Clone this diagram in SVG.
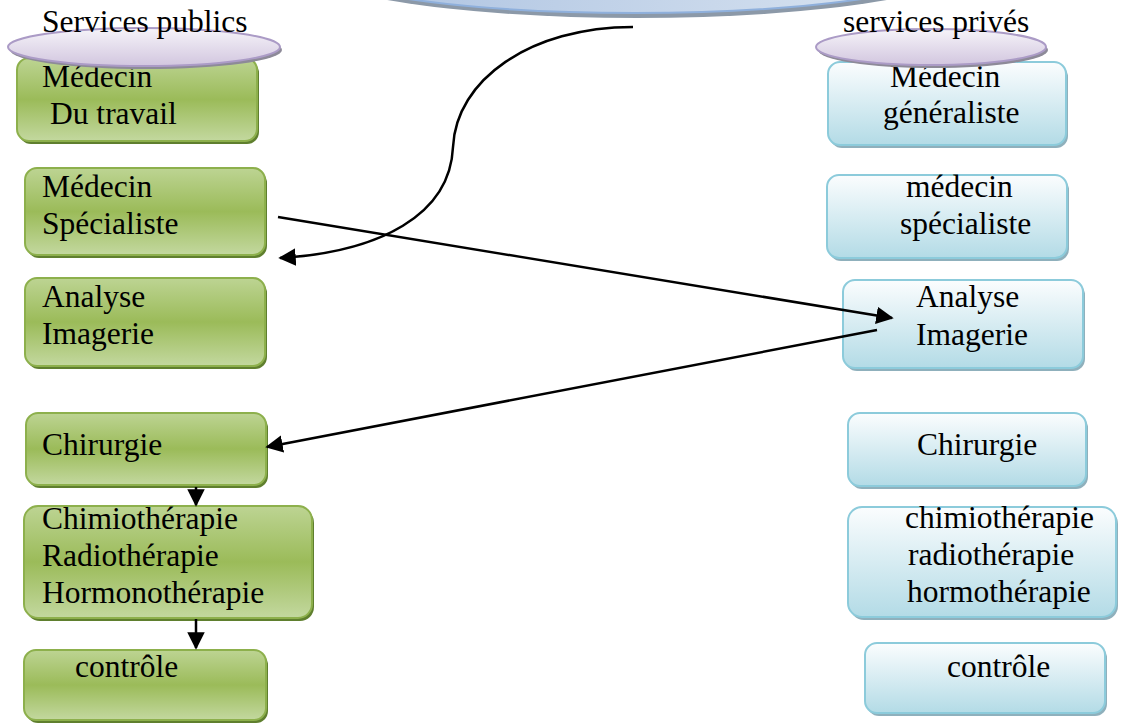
<svg xmlns="http://www.w3.org/2000/svg" width="1121" height="725" viewBox="0 0 1121 725">
<defs>
<linearGradient id="gGreen" x1="0" y1="0" x2="0" y2="1">
<stop offset="0" stop-color="#bdd493"/>
<stop offset="0.5" stop-color="#9bbb59"/>
<stop offset="1" stop-color="#c3d89f"/>
</linearGradient>
<linearGradient id="gBlue" x1="0" y1="0" x2="0" y2="1">
<stop offset="0" stop-color="#fbfdfe"/>
<stop offset="1" stop-color="#b3dbe6"/>
</linearGradient>
<linearGradient id="gLav" x1="0" y1="0" x2="0" y2="1">
<stop offset="0" stop-color="#f6f4f9"/>
<stop offset="1" stop-color="#d2c6df"/>
</linearGradient>
<linearGradient id="gTop" x1="0" y1="0" x2="1" y2="0">
<stop offset="0" stop-color="#a9c0e0"/>
<stop offset="1" stop-color="#dde7f2"/>
</linearGradient>
<marker id="ah" viewBox="0 0 10 10" refX="9" refY="5" markerWidth="7" markerHeight="7" markerUnits="strokeWidth" orient="auto">
<path d="M0,0 L10,5 L0,10 z" fill="#000"/>
</marker>
<style>
.t{font-family:"Liberation Serif","Times New Roman",serif;font-size:31.5px;fill:#000}
.gs{fill:#5f7f2e}
.g{fill:url(#gGreen);stroke:#8db04c;stroke-width:2}
.bs{fill:#8fb0bc}
.b{fill:url(#gBlue);stroke:#8ccbdb;stroke-width:2}
.es{fill:#8d8a98}
.e{fill:url(#gLav);stroke:#ab9bc6;stroke-width:2}
.c{fill:none;stroke:#000;stroke-width:2.5;marker-end:url(#ah)}
</style>
</defs>
<rect width="1121" height="725" fill="#fff"/>

<g id="top-ellipse">
<ellipse cx="637" cy="-38" rx="340" ry="56" fill="#8c99a8"/>
<ellipse cx="635" cy="-42" rx="340" ry="55" fill="url(#gTop)" stroke="#8fb0dc" stroke-width="2"/>
</g>

<g id="L1">
<rect class="gs" x="19" y="61" width="240" height="83" rx="12"/>
<rect class="g" x="17" y="58" width="240" height="83" rx="12"/>
<text class="t" x="42" y="87">Médecin</text>
<text class="t" x="50" y="124">Du travail</text>
</g>
<g id="L2">
<rect class="gs" x="27" y="171" width="240" height="87" rx="12"/>
<rect class="g" x="25" y="168" width="240" height="87" rx="12"/>
<text class="t" x="42" y="197">Médecin</text>
<text class="t" x="42" y="234">Spécialiste</text>
</g>
<g id="L3">
<rect class="gs" x="27" y="281" width="240" height="88" rx="12"/>
<rect class="g" x="25" y="278" width="240" height="88" rx="12"/>
<text class="t" x="42" y="307">Analyse</text>
<text class="t" x="42" y="344">Imagerie</text>
</g>
<g id="L4">
<rect class="gs" x="28" y="416" width="240" height="72" rx="12"/>
<rect class="g" x="26" y="413" width="240" height="72" rx="12"/>
<text class="t" x="42" y="455">Chirurgie</text>
</g>
<g id="L5">
<rect class="gs" x="26" y="509" width="288" height="112" rx="14"/>
<rect class="g" x="24" y="506" width="288" height="112" rx="14"/>
<text class="t" x="42" y="529">Chimiothérapie</text>
<text class="t" x="42" y="566">Radiothérapie</text>
<text class="t" x="42" y="603">Hormonothérapie</text>
</g>
<g id="L6">
<rect class="gs" x="26" y="653" width="242" height="70" rx="12"/>
<rect class="g" x="24" y="650" width="242" height="70" rx="12"/>
<text class="t" x="75" y="677">contrôle</text>
</g>

<g id="R1">
<rect class="bs" x="830" y="65" width="238" height="83" rx="12"/>
<rect class="b" x="828" y="62" width="238" height="83" rx="12"/>
<text class="t" x="890" y="87">Médecin</text>
<text class="t" x="883" y="123">généraliste</text>
</g>
<g id="R2">
<rect class="bs" x="829" y="178" width="240" height="83" rx="12"/>
<rect class="b" x="827" y="175" width="240" height="83" rx="12"/>
<text class="t" x="906" y="197">médecin</text>
<text class="t" x="900" y="234">spécialiste</text>
</g>
<g id="R3">
<rect class="bs" x="845" y="283" width="240" height="88" rx="12"/>
<rect class="b" x="843" y="280" width="240" height="88" rx="12"/>
<text class="t" x="916" y="307">Analyse</text>
<text class="t" x="916" y="345">Imagerie</text>
</g>
<g id="R4">
<rect class="bs" x="850" y="416" width="238" height="73" rx="12"/>
<rect class="b" x="848" y="413" width="238" height="73" rx="12"/>
<text class="t" x="917" y="455">Chirurgie</text>
</g>
<g id="R5">
<rect class="bs" x="850" y="510" width="268" height="110" rx="14"/>
<rect class="b" x="848" y="507" width="268" height="110" rx="14"/>
<text class="t" x="905" y="528">chimiothérapie</text>
<text class="t" x="908" y="565">radiothérapie</text>
<text class="t" x="907" y="602">hormothérapie</text>
</g>
<g id="R6">
<rect class="bs" x="867" y="646" width="240" height="70" rx="12"/>
<rect class="b" x="865" y="643" width="240" height="70" rx="12"/>
<text class="t" x="947" y="677">contrôle</text>
</g>

<g id="header-public">
<ellipse class="es" cx="146" cy="50" rx="136" ry="19"/>
<ellipse class="e" cx="144" cy="47" rx="136" ry="19"/>
<text class="t" x="42" y="32">Services publics</text>
</g>
<g id="header-prive">
<ellipse class="es" cx="933" cy="50" rx="115" ry="18"/>
<ellipse class="e" cx="931" cy="47" rx="115" ry="18"/>
<text class="t" x="843" y="32">services privés</text>
</g>

<g id="connectors">
<path class="c" d="M633,27 C530,27 456,80 453,147 C450,215 380,252 280,258"/>
<path class="c" d="M278,217 L892,318"/>
<path class="c" d="M877,330 L267,447"/>
<path class="c" d="M196,487 L196,505"/>
<path class="c" d="M196,619 L196,648"/>
</g>
</svg>
